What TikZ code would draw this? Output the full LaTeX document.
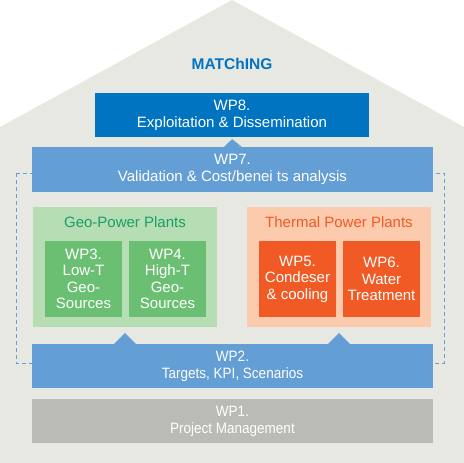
\documentclass[tikz,border=0pt]{standalone}
\usepackage{fontspec}
\setmainfont{Liberation Sans}
\newfontfamily\narrowfont[FakeStretch=0.9]{Liberation Sans}
\usetikzlibrary{positioning, arrows.meta}
\usepackage{xcolor}

\definecolor{housegray}{RGB}{232,232,227}
\definecolor{wpdark}{RGB}{0,116,193}
\definecolor{wplight}{RGB}{99,158,212}
\definecolor{geobg}{RGB}{182,221,180}
\definecolor{geobox}{RGB}{107,191,115}
\definecolor{geotext}{RGB}{24,160,100}
\definecolor{thermbg}{RGB}{252,203,173}
\definecolor{thermbox}{RGB}{241,90,36}
\definecolor{pmgray}{RGB}{187,187,181}

\begin{document}
\begin{tikzpicture}[x=1pt, y=-1pt,
  wpbox/.style={rectangle, inner sep=0pt, text=white, align=center,
    font=\fontsize{15}{17}\selectfont},
  widebox/.style={wpbox, minimum width=401pt, minimum height=44pt},
  narrowbox/.style={widebox, font=\narrowfont\fontsize{15}{17}\selectfont},
  subbox/.style={wpbox, minimum width=77pt, minimum height=76pt,
    font=\fontsize{15}{16.5}\selectfont},
  plant/.style={rectangle, inner sep=0pt, minimum width=184pt, minimum height=120pt},
  planttitle/.style={anchor=base, inner sep=0pt, font=\fontsize{15}{17}\selectfont},
  ptrsmall/.style={-{Triangle[length=8pt, width=18pt]}, wplight, line width=0.3pt, shorten >=2pt},
  ptrbig/.style={-{Triangle[length=11pt, width=22pt]}, wplight, line width=0.3pt, shorten >=6pt},
  frame/.style={wplight, line width=1pt, dash pattern=on 4pt off 3pt}]

\useasboundingbox (0,0) rectangle (464,463);

% --- house outline ---
\fill[housegray] (0,463) -- (0,127) -- (232,0) -- (464,127) -- (464,463) -- cycle;
\node[font=\bfseries\fontsize{15.5}{17}\selectfont, text=wpdark] (title) at (232,64) {MATChING};

% --- dashed frame behind WP7 / WP2 ---
\draw[frame] (16,173) rectangle (444,363);

% --- top: WP8, WP7 ---
\node[wpbox, fill=wpdark, minimum width=274pt, minimum height=44pt] (wp8) at (232,115)
  {WP8.\\Exploitation \& Dissemination};
\node[widebox, fill=wplight, minimum height=45pt] (wp7) at (232.5,169.5)
  {WP7.\\Validation \& Cost/benei ts analysis};

% --- middle: plant groups ---
\node[plant, fill=geobg] (geo) at (125,267) {};
\node[planttitle, text=geotext] (geotitle) at (125,227) {Geo-Power Plants};
\node[subbox, fill=geobox] (wp3) at (83.5,279) {WP3.\\Low-T\\Geo-\\Sources};
\node[subbox, fill=geobox] (wp4) at (167.5,279) {WP4.\\High-T\\Geo-\\Sources};

\node[plant, fill=thermbg] (therm) at (339,267) {};
\node[planttitle, text=thermbox] (thermtitle) at (339,227) {Thermal Power Plants};
\node[subbox, fill=thermbox] (wp5) at (297.5,279) {WP5.\\Condeser\\\& cooling};
\node[subbox, fill=thermbox] (wp6) at (381.5,279) {WP6.\\Water\\Treatment};

% --- bottom: WP2, WP1 ---
\node[narrowbox, fill=wplight] (wp2) at (232.5,366) {WP2.\\Targets, KPI, Scenarios};
\node[narrowbox, fill=pmgray] (wp1) at (232.5,421) {WP1.\\Project Management};

% --- pointers ---
\draw[ptrsmall] (wp7.north) -- (wp8.south);
\draw[ptrbig] (wp2.north -| geo.south) -- (geo.south);
\draw[ptrbig] (wp2.north -| therm.south) -- (therm.south);
\end{tikzpicture}
\end{document}
